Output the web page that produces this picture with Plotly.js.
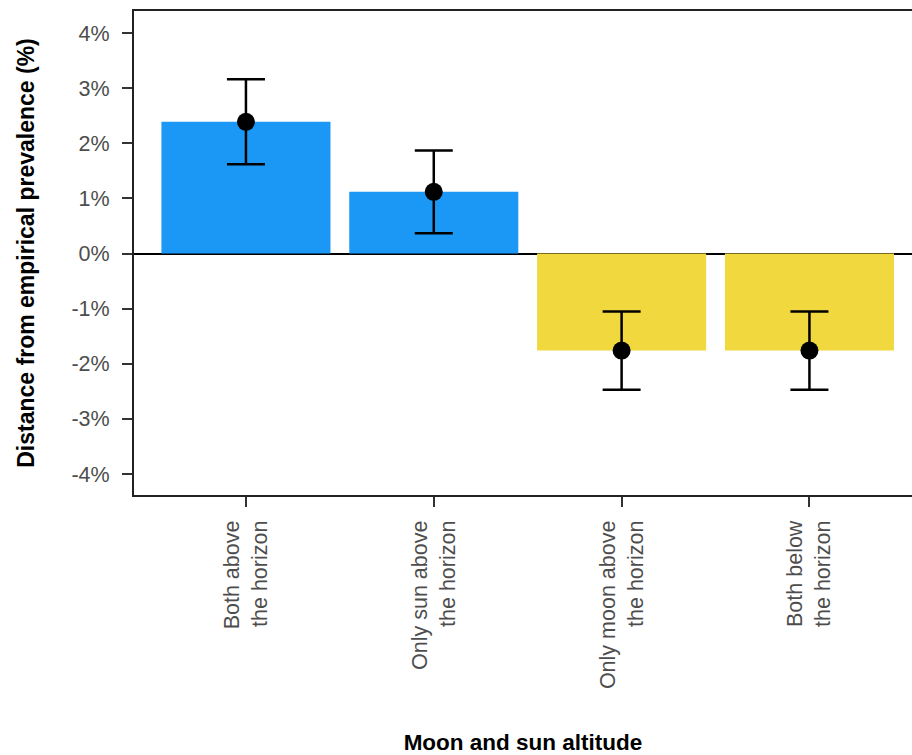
<!DOCTYPE html>
<html>
<head>
<meta charset="utf-8">
<script src="https://cdn.plot.ly/plotly-3.0.1.min.js"></script>
<style>
html,body{margin:0;padding:0;background:#fff;}
#chart{width:912px;height:755px;}
</style>
</head>
<body>
<div id="chart"></div>
<script>
const categories = ["Both above<br>the horizon", "Only sun above<br>the horizon", "Only moon above<br>the horizon", "Both below<br>the horizon"];
const values = [2.39, 1.12, -1.76, -1.76];
const errors = [0.77, 0.75, 0.71, 0.71];
const barColors = ["#1B98F5", "#1B98F5", "#F2D83F", "#F2D83F"];
const yTickVals = [-4, -3, -2, -1, 0, 1, 2, 3, 4];
const yTickText = ["-4%", "-3%", "-2%", "-1%", "0%", "1%", "2%", "3%", "4%"];

const xIdx = categories.map((c, i) => i);
const FONT = "Liberation Sans, Arial, sans-serif";

const traces = [
  {
    type: "bar",
    x: xIdx,
    y: values,
    width: 0.9,
    marker: {color: barColors, line: {width: 0}},
    hoverinfo: "skip",
    showlegend: false
  },
  {
    type: "scatter",
    mode: "markers",
    x: xIdx,
    y: values,
    marker: {color: "#000000", size: 18},
    error_y: {type: "data", array: errors, visible: true, color: "#000000", thickness: 2.5, width: 19},
    showlegend: false
  }
];

const layout = {
  width: 912,
  height: 755,
  margin: {l: 134, r: 0, t: 11, b: 260},
  paper_bgcolor: "#ffffff",
  plot_bgcolor: "#ffffff",
  font: {family: FONT, color: "#4d4d4d", size: 21},
  xaxis: {
    range: [-0.596, 3.546],
    tickvals: xIdx,
    ticktext: categories,
    tickangle: -90,
    ticks: "outside",
    ticklen: 10,
    tickwidth: 2,
    tickcolor: "#333333",
    ticklabelstandoff: 5,
    showline: true,
    linecolor: "#222222",
    linewidth: 2,
    mirror: true,
    showgrid: false,
    zeroline: false,
    tickfont: {size: 21.5, color: "#4d4d4d", family: FONT},
    title: {text: "Moon and sun altitude", font: {size: 22.5, color: "#000000", family: FONT, weight: "bold"}, standoff: 48},
    automargin: false
  },
  yaxis: {
    range: [-4.38, 4.4],
    tickvals: yTickVals,
    ticktext: yTickText,
    ticks: "outside",
    ticklen: 10,
    tickwidth: 2,
    tickcolor: "#333333",
    ticklabelstandoff: 8,
    showline: true,
    linecolor: "#222222",
    linewidth: 2,
    mirror: false,
    showgrid: false,
    zeroline: true,
    zerolinecolor: "#000000",
    zerolinewidth: 2,
    tickfont: {size: 21.5, color: "#4d4d4d", family: FONT},
    title: {text: "Distance from empirical prevalence (%)", font: {size: 23, color: "#000000", family: FONT, weight: "bold"}, standoff: 30},
    automargin: false
  }
};

Plotly.newPlot("chart", traces, layout, {displayModeBar: false, staticPlot: true});
</script>
</body>
</html>
